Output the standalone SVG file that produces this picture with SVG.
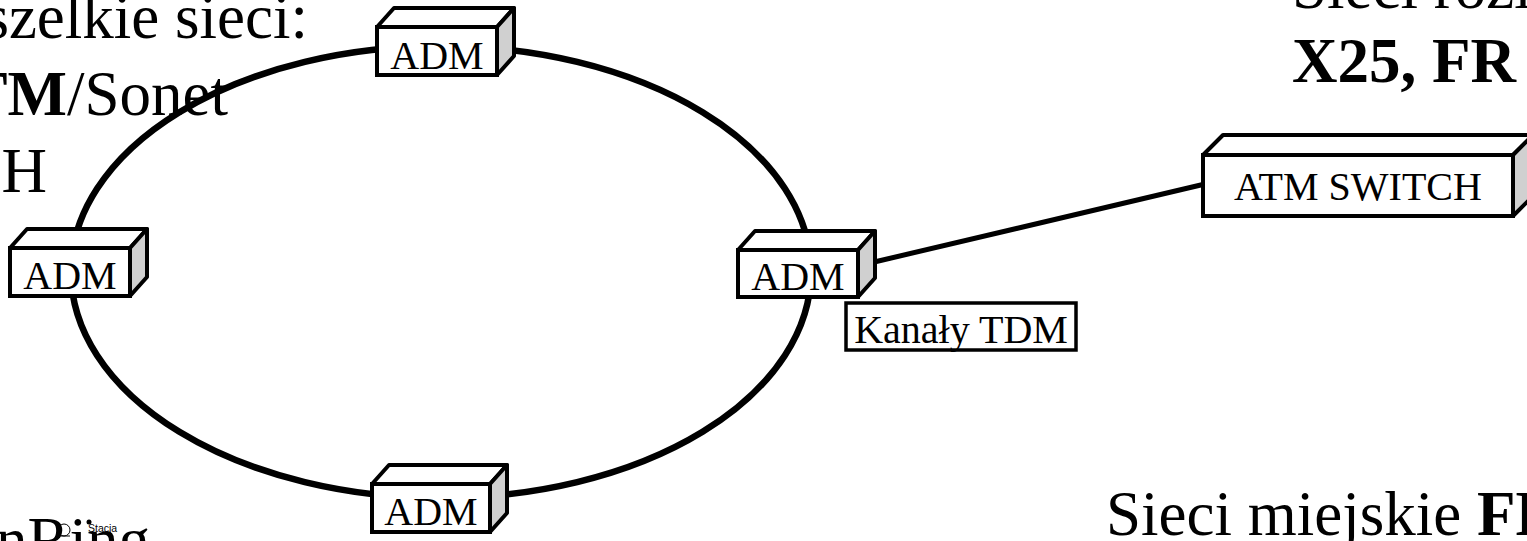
<svg xmlns="http://www.w3.org/2000/svg" width="1527" height="541" viewBox="0 0 1527 541">
  <style>
    .big { font-family: "Liberation Serif", "Times New Roman", serif; font-size: 63px; fill: #000; }
    .lbl { font-family: "Liberation Serif", "Times New Roman", serif; font-size: 40px; fill: #000; text-anchor: middle; }
    .b { font-weight: bold; }
    .front { fill: #fff; stroke: #000; stroke-width: 4; stroke-linejoin: miter; }
    .top { fill: #fff; stroke: #000; stroke-width: 4; stroke-linejoin: round; }
    .side { fill: #d0d0d0; stroke: #000; stroke-width: 4; stroke-linejoin: round; }
    .ring { fill: none; stroke: #000; stroke-width: 6.5; }
    .link { stroke: #000; stroke-width: 5; fill: none; }
  </style>

  <rect x="0" y="0" width="1527" height="541" fill="#fff"/>

  <!-- headings -->
  <g id="headings">
    <text class="big" x="308" y="38" text-anchor="end">Wszelkie sieci:</text>
    <text class="big" x="228" y="115" text-anchor="end"><tspan class="b">ATM</tspan>/Sonet</text>
    <text class="big" x="47" y="192" text-anchor="end">SDH</text>
    <text class="big" x="1292" y="8">Sieci rozległe:</text>
    <text class="big b" x="1292" y="82">X25, FR</text>
    <text class="big" x="1106" y="535">Sieci miejskie <tspan class="b">FDDI</tspan></text>
    <text class="big" x="150" y="561" text-anchor="end">TokenRing</text>
  </g>

  <!-- small station icon -->
  <g id="stacja">
    <circle cx="64" cy="530" r="6" fill="none" stroke="#000" stroke-width="1"/>
    <path d="M60 524 L60 536 L70 536" fill="none" stroke="#000" stroke-width="1"/>
    <circle cx="89" cy="522" r="2.5" fill="#000"/>
    <text x="88" y="532" font-family="Liberation Sans, Arial, sans-serif" font-size="10.5">Stacja</text>
  </g>

  <!-- connectors -->
  <g id="connectors">
    <ellipse class="ring" cx="441" cy="272" rx="370" ry="226"/>
    <line class="link" x1="870" y1="263" x2="1205" y2="184"/>
  </g>

  <!-- ADM on top of the ring -->
  <g id="adm-top">
    <polygon class="top" points="377,27 394,8 514,8 497,27"/>
    <polygon class="side" points="497,27 514,8 514,56 497,75"/>
    <rect class="front" x="377" y="27" width="120" height="48"/>
    <text class="lbl" x="437" y="69">ADM</text>
  </g>

  <!-- ADM on the left -->
  <g id="adm-left">
    <polygon class="top" points="10,248 27,229 147,229 130,248"/>
    <polygon class="side" points="130,248 147,229 147,277 130,296"/>
    <rect class="front" x="10" y="248" width="120" height="48"/>
    <text class="lbl" x="70" y="289">ADM</text>
  </g>

  <!-- ADM on the right -->
  <g id="adm-right">
    <polygon class="top" points="738,250 755,231 875,231 858,250"/>
    <polygon class="side" points="858,250 875,231 875,278 858,297"/>
    <rect class="front" x="738" y="250" width="120" height="47"/>
    <text class="lbl" x="798" y="290">ADM</text>
  </g>

  <!-- ADM at the bottom -->
  <g id="adm-bottom">
    <polygon class="top" points="372,484 389,465 507,465 490,484"/>
    <polygon class="side" points="490,484 507,465 507,513 490,532"/>
    <rect class="front" x="372" y="484" width="118" height="48"/>
    <text class="lbl" x="431" y="525">ADM</text>
  </g>

  <!-- ATM switch -->
  <g id="atm-switch">
    <polygon class="top" points="1203,155 1223,135 1533,135 1513,155"/>
    <polygon class="side" points="1513,155 1533,135 1533,196 1513,216"/>
    <rect class="front" x="1203" y="155" width="310" height="61"/>
    <text class="lbl" x="1358" y="200" font-size="42">ATM SWITCH</text>
  </g>

  <!-- TDM channels label -->
  <g id="kanaly-tdm">
    <rect x="846" y="303" width="230" height="47" fill="#fff" stroke="#000" stroke-width="3.5"/>
    <text class="lbl" x="961" y="343" font-size="42">Kanały TDM</text>
  </g>
</svg>
